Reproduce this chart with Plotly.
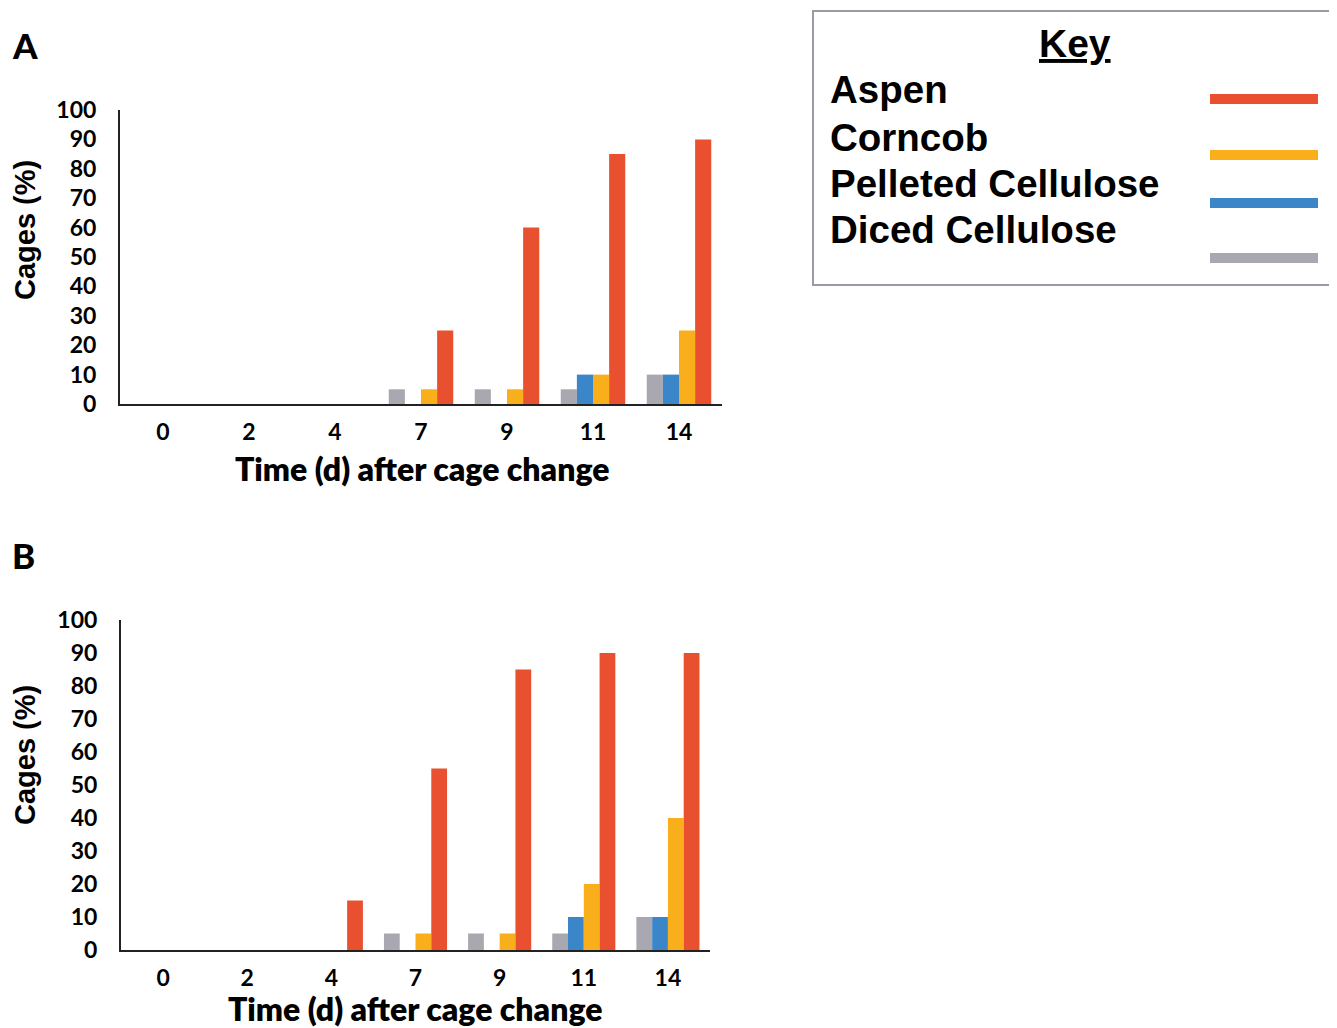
import plotly.graph_objects as go

days = ["0", "2", "4", "7", "9", "11", "14"]
series_names = ["Diced Cellulose", "Pelleted Cellulose", "Corncob", "Aspen"]
colors = {"Aspen": "#E8502F", "Corncob": "#F9AE1B",
          "Pelleted Cellulose": "#3A86C8", "Diced Cellulose": "#A9A8B1"}

# Panel A values (% cages)
a_diced = [0, 0, 0, 5, 5, 5, 10]
a_pelleted = [0, 0, 0, 0, 0, 10, 10]
a_corncob = [0, 0, 0, 5, 5, 10, 25]
a_aspen = [0, 0, 0, 25, 60, 85, 90]

# Panel B values (% cages)
b_diced = [0, 0, 0, 5, 5, 5, 10]
b_pelleted = [0, 0, 0, 0, 0, 10, 10]
b_corncob = [0, 0, 0, 5, 5, 20, 40]
b_aspen = [0, 0, 15, 55, 85, 90, 90]

key_order = ["Aspen", "Corncob", "Pelleted Cellulose", "Diced Cellulose"]
y_ticks = list(range(0, 101, 10))

W, H = 1337, 1028
OFF = 8  # page body margin
def px(x): return (x - OFF) / W
def py(y): return 1 - (y - OFF) / H

fig = go.Figure()
panelA = dict(zip(series_names, [a_diced, a_pelleted, a_corncob, a_aspen]))
panelB = dict(zip(series_names, [b_diced, b_pelleted, b_corncob, b_aspen]))
for name in series_names:
    fig.add_trace(go.Bar(x=days, y=panelA[name], name=name, marker_color=colors[name],
                         marker_line_width=0, xaxis="x", yaxis="y", showlegend=False))
for name in series_names:
    fig.add_trace(go.Bar(x=days, y=panelB[name], name=name, marker_color=colors[name],
                         marker_line_width=0, xaxis="x2", yaxis="y2", showlegend=False))

narrow = "Lato, Carlito, Calibri, sans-serif"
arial = "Liberation Sans, Arial, sans-serif"
tickfont = dict(family=narrow, size=23, color="black", weight="bold")
axis_common = dict(showgrid=False, zeroline=False, showline=True, linecolor="#222222", linewidth=2,
                   ticks="", tickfont=tickfont, automargin=False, fixedrange=True)

fig.update_layout(
    template="none",
    width=W, height=H, margin=dict(l=0, r=0, t=0, b=0, autoexpand=False),
    plot_bgcolor="white", paper_bgcolor="white",
    barmode="group", bargap=0.25, bargroupgap=0,
    xaxis=dict(domain=[px(120), px(722)], anchor="y", type="category", categoryorder="array",
               categoryarray=days, ticklabelstandoff=6, **axis_common),
    yaxis=dict(domain=[py(404), py(110)], anchor="x", range=[0, 100], tickvals=y_ticks,
               ticklabelstandoff=17, **axis_common),
    xaxis2=dict(domain=[px(121), px(710)], anchor="y2", type="category", categoryorder="array",
                categoryarray=days, ticklabelstandoff=6, **axis_common),
    yaxis2=dict(domain=[py(950), py(620)], anchor="x2", range=[0, 100], tickvals=y_ticks,
                ticklabelstandoff=17, **axis_common),
)

ann = []
# Panel letters
ann.append(dict(text="A", x=px(10), y=py(45), xanchor="left", yanchor="middle",
                font=dict(family=narrow, size=35, color="black", weight=900)))
ann.append(dict(text="B", x=px(10), y=py(555), xanchor="left", yanchor="middle",
                font=dict(family=narrow, size=35, color="black", weight=900)))
# Axis titles
for (xc, yc) in [(422, 469), (415, 1008)]:
    ann.append(dict(text="Time (d) after cage change", x=px(xc), y=py(yc), xanchor="center",
                    yanchor="middle", font=dict(family=narrow, size=32, color="black", weight=800)))
for yc in [230, 755]:
    ann.append(dict(text="<b>Cages (%)</b>", x=px(25), y=py(yc), xanchor="center", yanchor="middle",
                    textangle=-90, font=dict(family=arial, size=29, color="black")))

# Key box
shapes = [dict(type="rect", xref="paper", yref="paper", x0=px(813), x1=px(1350), y0=py(285), y1=py(11),
               line=dict(color="#9A9AA2", width=2), fillcolor="white", layer="below")]
ann.append(dict(text="<b><u>Key</u></b>", x=px(1075), y=py(44), xanchor="center", yanchor="middle",
                font=dict(family=arial, size=39, color="black")))
text_y = [90, 137, 183, 229]
line_y = [99, 155, 203, 258]
for name, ty, ly in zip(key_order, text_y, line_y):
    ann.append(dict(text="<b>%s</b>" % name, x=px(828), y=py(ty), xanchor="left", yanchor="middle",
                    font=dict(family=arial, size=38.5, color="black")))
    shapes.append(dict(type="line", xref="paper", yref="paper", x0=px(1210), x1=px(1318),
                       y0=py(ly), y1=py(ly), line=dict(color=colors[name], width=10)))

for a in ann:
    a.update(xref="paper", yref="paper", showarrow=False)
fig.update_layout(annotations=ann, shapes=shapes)

fig.write_html("out.html")
